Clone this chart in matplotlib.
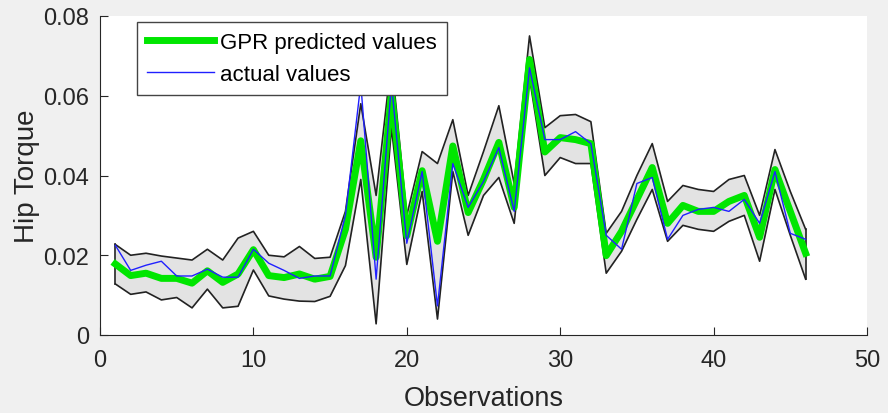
import numpy as np
import matplotlib
matplotlib.use("Agg")
import matplotlib.pyplot as plt

plt.rcParams['font.family'] = ['Liberation Sans', 'DejaVu Sans']

obs = np.arange(1, 47)

gpr_pred = [0.0178, 0.0149, 0.0155, 0.0142, 0.0142, 0.0130, 0.0161, 0.0132, 0.0153, 0.0214,
            0.0149, 0.0144, 0.0153, 0.0140, 0.0147, 0.0265, 0.0487, 0.0195, 0.0608, 0.0249,
            0.0412, 0.0235, 0.0474, 0.0307, 0.0390, 0.0483, 0.0320, 0.0691, 0.0459, 0.0495,
            0.0490, 0.0480, 0.0199, 0.0260, 0.0340, 0.0420, 0.0280, 0.0325, 0.0310, 0.0310,
            0.0335, 0.0350, 0.0245, 0.0415, 0.0310, 0.0205]

actual = [0.0225, 0.0162, 0.0175, 0.0185, 0.0148, 0.0148, 0.0165, 0.0145, 0.0145, 0.0215,
          0.0180, 0.0162, 0.0142, 0.0148, 0.0148, 0.0300, 0.0630, 0.0140, 0.0630, 0.0230,
          0.0410, 0.0073, 0.0430, 0.0320, 0.0385, 0.0470, 0.0310, 0.0670, 0.0490, 0.0490,
          0.0510, 0.0480, 0.0250, 0.0215, 0.0380, 0.0395, 0.0240, 0.0300, 0.0315, 0.0320,
          0.0310, 0.0340, 0.0280, 0.0410, 0.0255, 0.0240]

upper = [0.0227, 0.0200, 0.0205, 0.0198, 0.0193, 0.0188, 0.0215, 0.0188, 0.0243, 0.0260,
         0.0200, 0.0196, 0.0222, 0.0192, 0.0195, 0.0310, 0.0580, 0.0350, 0.0690, 0.0300,
         0.0460, 0.0430, 0.0540, 0.0350, 0.0460, 0.0575, 0.0380, 0.0750, 0.0520, 0.0550,
         0.0553, 0.0535, 0.0255, 0.0310, 0.0400, 0.0480, 0.0335, 0.0375, 0.0365, 0.0360,
         0.0390, 0.0400, 0.0300, 0.0465, 0.0360, 0.0265]

lower = [0.0128, 0.0102, 0.0108, 0.0088, 0.0094, 0.0068, 0.0115, 0.0068, 0.0072, 0.0163,
         0.0098, 0.0090, 0.0085, 0.0084, 0.0097, 0.0174, 0.0390, 0.0028, 0.0520, 0.0177,
         0.0360, 0.0040, 0.0410, 0.0250, 0.0350, 0.0395, 0.0280, 0.0645, 0.0400, 0.0445,
         0.0430, 0.0430, 0.0155, 0.0210, 0.0290, 0.0365, 0.0235, 0.0275, 0.0265, 0.0260,
         0.0285, 0.0300, 0.0185, 0.0365, 0.0250, 0.0140]

fig = plt.figure(figsize=(8.88, 4.14), dpi=100, facecolor='#f0f0f0')
ax = fig.add_axes([100 / 888, 1 - 336 / 414, 767 / 888, 319 / 414])
ax.set_facecolor('white')

# confidence band
ax.fill_between(obs, lower, upper, color='#e3e3e3', lw=0)
ax.plot(obs, upper, color='#222222', lw=1.2)
ax.plot(obs, lower, color='#222222', lw=1.2)
ax.plot([obs[0], obs[0]], [lower[0], upper[0]], color='#222222', lw=1.2)
ax.plot([obs[-1], obs[-1]], [lower[-1], upper[-1]], color='#222222', lw=1.2)

ax.plot(obs, gpr_pred, color='#00e600', lw=5, label='GPR predicted values')
ax.plot(obs, actual, color='#2020ff', lw=1, label='actual values')

ax.set_xlim(0, 50)
ax.set_ylim(0, 0.08)
ax.set_xticks([0, 10, 20, 30, 40, 50])
ax.set_yticks([0, 0.02, 0.04, 0.06, 0.08])
ax.set_yticklabels(['0', '0.02', '0.04', '0.06', '0.08'])
ax.tick_params(direction='in', labelsize=17, length=6, width=0.8, colors='#262626', pad=8)
ax.tick_params(axis='x', pad=10)
for s in ['top', 'right']:
    ax.spines[s].set_visible(False)
for s in ['left', 'bottom']:
    ax.spines[s].set_color('#262626')

ax.set_xlabel('Observations', fontsize=19.5, color='#262626', labelpad=10)
ax.set_ylabel('Hip Torque', fontsize=20, color='#262626', labelpad=2)

leg = ax.legend(loc='upper left', bbox_to_anchor=(37 / 767, 313 / 319), borderaxespad=0,
                fontsize=16, frameon=True, fancybox=False, edgecolor='#444444', framealpha=1,
                handlelength=3.0, handletextpad=0.3, borderpad=0.45, labelspacing=0.5)
leg.get_frame().set_linewidth(1)

fig.savefig('out.png', dpi=100, facecolor=fig.get_facecolor())
